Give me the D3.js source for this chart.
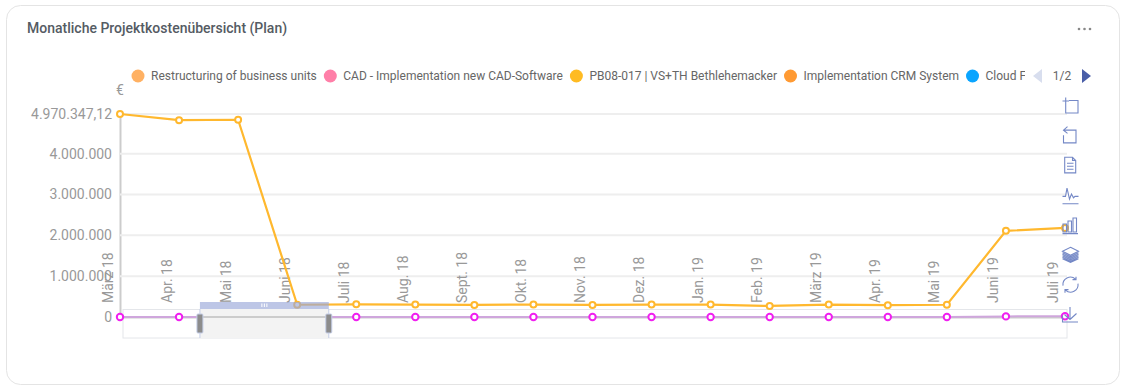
<!DOCTYPE html>
<html>
<head>
<meta charset="utf-8">
<script src="https://cdnjs.cloudflare.com/ajax/libs/d3/7.8.5/d3.min.js"></script>
<style>
  html, body { margin: 0; padding: 0; background: #fff; }
  text { font-family: Roboto, sans-serif; }
</style>
</head>
<body>
<svg id="chart" width="1126" height="389"></svg>
<script>
const months = ["März 18", "Apr. 18", "Mai 18", "Juni 18", "Juli 18", "Aug. 18", "Sept. 18", "Okt. 18", "Nov. 18", "Dez. 18", "Jan. 19", "Feb. 19", "März 19", "Apr. 19", "Mai 19", "Juni 19", "Juli 19"];
const legendNames = ["Restructuring of business units", "CAD - Implementation new CAD-Software", "PB08-017 | VS+TH Bethlehemacker", "Implementation CRM System", "Cloud F"];
const legendColors = ["#ffb163", "#ff7fa8", "#ffbb22", "#ff9a33", "#0aa5ff"];
const yTicks = [0, 1000000, 2000000, 3000000, 4000000, 4970347.12];
const planCosts = [4970347, 4820000, 4830000, 300000, 310000, 305000, 295000, 305000, 295000, 305000, 305000, 270000, 305000, 290000, 300000, 2110000, 2180000];
const otherCosts = [0, 0, 0, 0, 0, 0, 0, 0, 0, 0, 0, 0, 0, 0, 0, 15000, 20000];
const iconPaths = [
  "M-8-4.5H-1.5M-4.8-8V-1M-4.8-1V7.5H7.5V-5H-1.5",
  "M-3-8.7L-7-5.2L-3-2M-7-5.2H5.5V7.5H-7V0",
  "M-5.8-8H2L5.2-4.8V7.7H-5.8ZM2-8V-4.8H5.2M-3.5-2H3M-3.5 1H3M-3.5 4H3",
  "M-8 1.3H-5L-3.5-7-1 4 1-1 3 2.7 4.5 1.3H8M-8 8.7H8",
  "M-8 8.7H7.5M-7.5 7V-1H-4V7ZM-2.5 7V-4H1V7ZM2.5 7V-7H6V7Z",
  "M0-7.5L8-3.5 0 .5-8-3.5ZM-8-2L0 2 8-2M-8-.5L0 3.5 8-.5M-8 1L0 5 8 1M-8 2.5L0 6.5 8 2.5M-8 4L0 7.5 8 4",
  "M-7.5 1A7.5 7.5 0 0 1 5-5.5M7.5-1A7.5 7.5 0 0 1-5 5.5M5.5-8V-5H2M-5.5 8V5H-2",
  "M-8 1V7.5H7.5M-.5-7.5V5M-.5 5L-6 0M-.5 5L6-1"
];

const svg = d3.select("#chart");
const plot = { left: 120, right: 1065, top: 114, bottom: 317 };

const x = d3.scalePoint().domain(months).range([plot.left, plot.right]);
const y = d3.scaleLinear().domain([0, d3.max(yTicks)]).range([plot.bottom, plot.top]);
const de = d3.formatLocale({ decimal: ",", thousands: ".", grouping: [3], currency: ["", "€"] });
const yFormat = v => v % 1 ? de.format(",.2f")(v) : de.format(",")(v);

// card
svg.append("rect").attr("x", 6.5).attr("y", 5.5).attr("width", 1113).attr("height", 379)
  .attr("rx", 14).attr("fill", "#fff").attr("stroke", "#e4e4e4");
svg.append("text").attr("x", 27).attr("y", 33).attr("font-size", 14).attr("font-weight", 500)
  .attr("fill", "#555b63").text("Monatliche Projektkostenübersicht (Plan)");
svg.append("g").selectAll("circle").data([0, 1, 2]).join("circle")
  .attr("cx", d => 1079 + d * 5.5).attr("cy", 29).attr("r", 1.3).attr("fill", "#888");

// legend, laid out by measured text width
svg.append("clipPath").attr("id", "legendClip").append("rect")
  .attr("x", 120).attr("y", 60).attr("width", 905).attr("height", 30);
const legend = svg.append("g").attr("clip-path", "url(#legendClip)");
let legendX = 131.5;
legendNames.forEach((name, i) => {
  legend.append("circle").attr("cx", legendX + 6.5).attr("cy", 76).attr("r", 6.5).attr("fill", legendColors[i]);
  const label = legend.append("text").attr("x", legendX + 19.5).attr("y", 79.5)
    .attr("font-size", 12).attr("fill", "#666").text(name);
  legendX += 19.5 + label.node().getComputedTextLength() + 7;
});
svg.append("path").attr("d", "M1042 69L1033 76L1042 83Z").attr("fill", "#d8deee");
svg.append("text").attr("x", 1062).attr("y", 80).attr("text-anchor", "middle").attr("font-size", 12).attr("fill", "#666").text("1/2");
svg.append("path").attr("d", "M1082 69L1091 76L1082 83Z").attr("fill", "#4a5ea8");

// y axis
svg.append("text").attr("x", 116).attr("y", 95).attr("text-anchor", "start").attr("font-size", 14).attr("fill", "#999").text("€");
const yAxis = svg.append("g").attr("transform", `translate(${plot.left},0)`)
  .call(d3.axisLeft(y).tickValues(yTicks).tickFormat(yFormat).tickSize(0).tickPadding(8));
yAxis.select(".domain").attr("stroke", "#ccc").attr("stroke-width", 2);
yAxis.selectAll("text").attr("font-size", 14).attr("fill", "#999").style("font-family", "Roboto, sans-serif");

svg.append("g").selectAll("line").data(yTicks.filter(d => d > 0)).join("line")
  .attr("x1", plot.left).attr("x2", plot.right + 2)
  .attr("y1", d => y(d)).attr("y2", d => y(d))
  .attr("stroke", "#eeeeee").attr("stroke-width", 2);

// x axis with rotated month labels
const xAxis = svg.append("g").attr("transform", `translate(0,${plot.bottom})`)
  .call(d3.axisBottom(x).tickSize(0));
xAxis.select(".domain").attr("stroke", "#ccc").attr("stroke-width", 2);
xAxis.selectAll("text")
  .attr("transform", "rotate(-90)")
  .attr("text-anchor", "start").attr("x", 14).attr("y", -8).attr("dy", 0)
  .attr("font-size", 14).attr("fill", "#999").style("font-family", "Roboto, sans-serif");

// zoom slider track behind the lines
const track = d3.scaleLinear().domain([0, 1]).range([123, 1067]);
const sliderStart = 0.0815, sliderEnd = 0.218;
svg.append("rect").attr("x", track(0)).attr("y", 309.5).attr("width", track(1) - track(0)).attr("height", 28.5)
  .attr("fill", "none").attr("stroke", "#e4e6ea");

// series
const line = d3.line().x((d, i) => x(months[i])).y(d => y(d));
svg.append("path").datum(otherCosts).attr("d", line).attr("fill", "none").attr("stroke", "#cfa6dc").attr("stroke-width", 2);
svg.append("g").selectAll("circle").data(otherCosts).join("circle")
  .attr("cx", (d, i) => x(months[i])).attr("cy", d => y(d)).attr("r", 3.2)
  .attr("fill", "#fff").attr("stroke", "#f01ff0").attr("stroke-width", 2);
svg.append("path").datum(planCosts).attr("d", line).attr("fill", "none").attr("stroke", "#ffb82e").attr("stroke-width", 2.2);
svg.append("g").selectAll("circle").data(planCosts).join("circle")
  .attr("cx", (d, i) => x(months[i])).attr("cy", d => y(d)).attr("r", 3)
  .attr("fill", "#fff").attr("stroke", "#ffb82e").attr("stroke-width", 2);

// zoom slider window on top, it hides the low series and leaves the axis line
const sx0 = track(sliderStart), sx1 = track(sliderEnd);
svg.append("rect").attr("x", sx0).attr("y", 309).attr("width", sx1 - sx0).attr("height", 29)
  .attr("fill", "#f3f3f3");
svg.append("line").attr("x1", sx0).attr("x2", sx1).attr("y1", y(0)).attr("y2", y(0))
  .attr("stroke", "#ccc").attr("stroke-width", 2);
svg.append("rect").attr("x", sx0).attr("y", 302).attr("width", sx1 - sx0).attr("height", 7)
  .attr("fill", "#9aa8d8").attr("fill-opacity", 0.65);
svg.append("g").selectAll("rect").data([-2.5, 0, 2.5]).join("rect")
  .attr("x", d => (sx0 + sx1) / 2 + d - 0.5).attr("y", 303.5).attr("width", 1).attr("height", 3.5).attr("fill", "#fff");
svg.append("g").selectAll("line").data([sx0, sx1]).join("line")
  .attr("x1", d => d).attr("x2", d => d).attr("y1", 309).attr("y2", 338).attr("stroke", "#c5cee8");
svg.append("g").selectAll("rect").data([sx0, sx1]).join("rect")
  .attr("x", d => d - 3).attr("y", 314).attr("width", 6).attr("height", 19).attr("rx", 1)
  .attr("fill", "#8c8c8c").attr("stroke", "#c5cee8");

// toolbox icons
const iconY = d3.scalePoint().domain(d3.range(iconPaths.length)).range([105.5, 314.5]);
svg.append("g").selectAll("path").data(iconPaths).join("path")
  .attr("transform", (d, i) => `translate(1070.5,${iconY(i)})`)
  .attr("d", d => d).attr("fill", "none").attr("stroke", "#7488c6").attr("stroke-width", 1.1);
</script>
</body>
</html>
